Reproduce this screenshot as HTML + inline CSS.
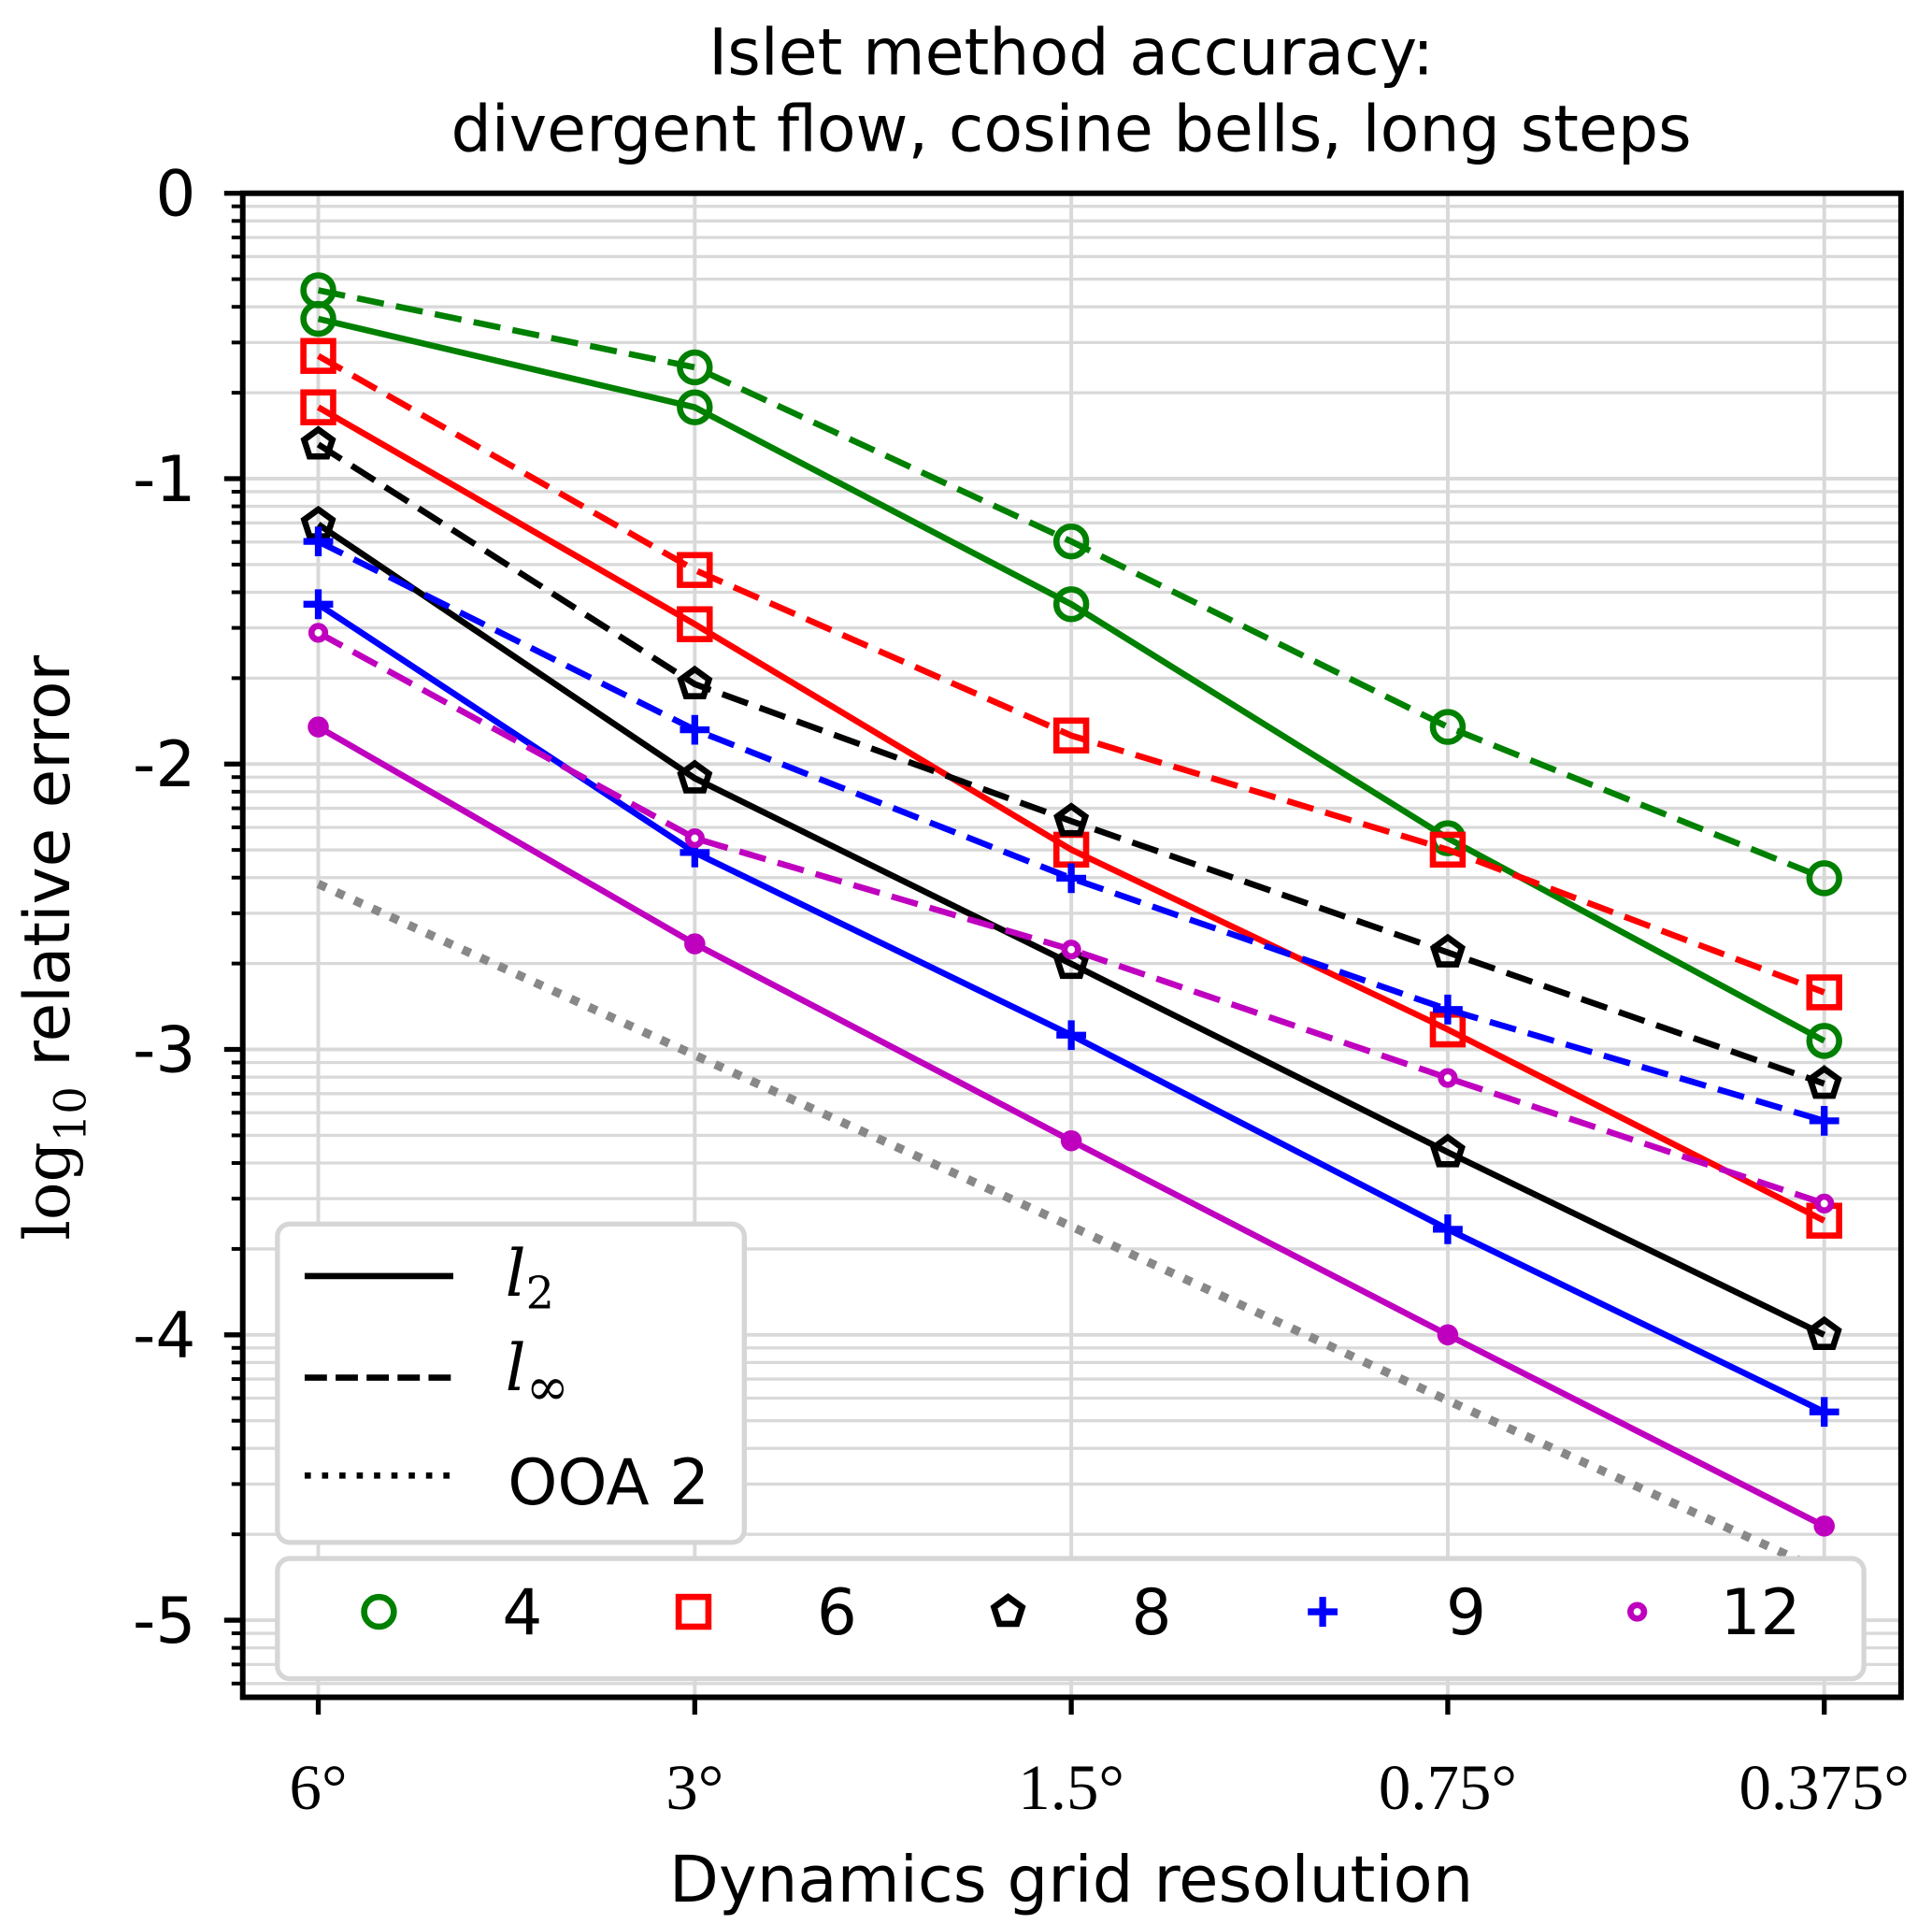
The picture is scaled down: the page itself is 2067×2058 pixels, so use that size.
<!DOCTYPE html>
<html><head><meta charset="utf-8"><style>
html,body{margin:0;padding:0;background:#fff;}
svg{display:block;}
text{font-family:"DejaVu Sans","Liberation Sans",sans-serif;fill:#000;}
.serif{font-family:"DejaVu Serif","Liberation Serif",serif;}
.lserif{font-family:"Liberation Serif","DejaVu Serif",serif;}
</style></head><body>
<svg id="chart" width="2067" height="2058" viewBox="0 0 1560 1553" preserveAspectRatio="none" xmlns="http://www.w3.org/2000/svg">
<g id="grid"></g>
<g id="ticks"></g>
<g id="series"></g>
<rect x="196" y="156" width="1339" height="1214" fill="none" stroke="#000" stroke-width="4.5"/>
<text x="865" y="60" font-size="51.5" text-anchor="middle">Islet method accuracy:</text>
<text x="865" y="122" font-size="51.5" text-anchor="middle">divergent flow, cosine bells, long steps</text>
<text transform="translate(56,765) rotate(-90)" font-size="51" text-anchor="middle"><tspan class="serif">log</tspan><tspan class="serif" font-size="35" dy="13">10</tspan><tspan dy="-13"> relative error</tspan></text>
<text x="865" y="1535" font-size="52" text-anchor="middle">Dynamics grid resolution</text>
<g id="legend">
<rect x="224" y="988" width="377" height="257" rx="10" fill="#fff" stroke="#d6d6d6" stroke-width="4"/>
<line x1="246" y1="1030" x2="366" y2="1030" stroke="#000" stroke-width="5"/>
<text class="serif" x="408" y="1046" font-size="52" font-style="italic">l<tspan font-size="36" dy="10" font-style="normal">2</tspan></text>
<line x1="246" y1="1112" x2="366" y2="1112" stroke="#000" stroke-width="5" stroke-dasharray="18,7"/>
<text class="serif" x="408" y="1122" font-size="52" font-style="italic">l<tspan font-size="42" dy="12" font-style="normal">∞</tspan></text>
<line x1="246" y1="1191" x2="366" y2="1191" stroke="#000" stroke-width="5" stroke-dasharray="5,9"/>
<text x="410" y="1214" font-size="51">OOA 2</text>
<rect x="224" y="1258" width="1281" height="97" rx="10" fill="#fff" stroke="#d6d6d6" stroke-width="4"/>
<g id="legend2"></g>
</g>
</svg>
<script>
const NS="http://www.w3.org/2000/svg";
const categories=["6°","3°","1.5°","0.75°","0.375°"];
const degrees=["4","6","8","9","12"];
const l2_4=[-0.44,-0.75,-1.44,-2.26,-2.97];
const linf_4=[-0.34,-0.61,-1.22,-1.87,-2.40];
const l2_6=[-0.75,-1.51,-2.30,-2.93,-3.60];
const linf_6=[-0.57,-1.32,-1.90,-2.30,-2.80];
const l2_8=[-1.16,-2.05,-2.70,-3.36,-4.00];
const linf_8=[-0.88,-1.72,-2.20,-2.66,-3.12];
const l2_9=[-1.44,-2.31,-2.95,-3.63,-4.27];
const linf_9=[-1.22,-1.88,-2.40,-2.86,-3.25];
const l2_12=[-1.87,-2.63,-3.32,-4.00,-4.67];
const linf_12=[-1.54,-2.26,-2.65,-3.10,-3.54];
const ooa2=[-2.42,-3.02,-3.62,-4.23,-4.83];
const yTicks=[0,-1,-2,-3,-4,-5];
const yTickLabels=["0","-1","-2","-3","-4","-5"];

const X0=196,X1=1535,Y0=156,Y1=1370,YMIN=-5.27;
function xs(i){return 257+i*304;}
function ys(v){return Y0+(0-v)/(0-YMIN)*(Y1-Y0);}
function mk(tag,attrs,parent){const e=document.createElementNS(NS,tag);for(const k in attrs)e.setAttribute(k,attrs[k]);parent.appendChild(e);return e;}
const grid=document.getElementById('grid'),ticks=document.getElementById('ticks'),series=document.getElementById('series');
for(let i=0;i<categories.length;i++){
  const l=mk('line',{x1:xs(i),x2:xs(i),y1:Y0,y2:Y1,stroke:'#d9d9d9','stroke-width':3},grid);
  
  
  const t=mk('line',{x1:xs(i),x2:xs(i),y1:Y1,y2:Y1+14,stroke:'#000','stroke-width':4},ticks);
  
  
  const tx=mk('text',{x:xs(i),y:1460,'font-size':52,'text-anchor':'middle','class':'lserif'},ticks);
  tx.textContent=categories[i];
  
  
}
for(let d=0;d>=-6;d--){
  for(let k=1;k<=9;k++){
    if(k===1&&d===-6)continue;
    const val=(k===1)?d:(d-1+Math.log10(k));
    if(val>0||val<YMIN)continue;
    const y=ys(val);
    const major=(k===1);
    const g=mk('line',{x1:X0,x2:X1,y1:y,y2:y,stroke:'#d9d9d9','stroke-width':major?3:2.5},grid);
    
    
    const t=mk('line',{x1:X0-(major?15:9),x2:X0,y1:y,y2:y,stroke:'#000','stroke-width':major?4:3},ticks);
    
    
  }
}
yTicks.forEach((v,i)=>{
  const tx=mk('text',{x:158,y:ys(v)+18,'font-size':51,'text-anchor':'end'},ticks);
  tx.textContent=yTickLabels[i];
  
  
});
const pts=ooa2.map((v,i)=>xs(i)+','+ys(v)).join(' ');
const ol=mk('polyline',{points:pts,fill:'none',stroke:'#888','stroke-width':7,'stroke-dasharray':'7,9'},series);



function marker(type,color,x,y,parent,small){
  let e;
  if(type==='circle') e=mk('circle',{cx:x,cy:y,r:12,fill:'none',stroke:color,'stroke-width':5},parent);
  else if(type==='square') e=mk('rect',{x:x-12,y:y-12,width:24,height:24,fill:'none',stroke:color,'stroke-width':5},parent);
  else if(type==='pent'){
    let p=[];for(let k=0;k<5;k++){const a=-Math.PI/2+k*2*Math.PI/5;p.push((x+12*Math.cos(a))+','+(y+12*Math.sin(a)));}
    e=mk('polygon',{points:p.join(' '),fill:'none',stroke:color,'stroke-width':5},parent);
  } else if(type==='plus') e=mk('path',{d:`M${x-12} ${y}H${x+12}M${x} ${y-12}V${y+12}`,stroke:color,'stroke-width':5.5,fill:'none'},parent);
  else if(type==='dot') e=small?mk('circle',{cx:x,cy:y,r:5.5,fill:'#fff',stroke:color,'stroke-width':5},parent):mk('circle',{cx:x,cy:y,r:8.5,fill:color},parent);
  
  
}
const defs=[
  {d:"4",c:'#008000',m:'circle',l2:l2_4,li:linf_4},
  {d:"6",c:'#ff0000',m:'square',l2:l2_6,li:linf_6},
  {d:"8",c:'#000000',m:'pent',l2:l2_8,li:linf_8},
  {d:"9",c:'#0000ff',m:'plus',l2:l2_9,li:linf_9},
  {d:"12",c:'#bf00bf',m:'dot',l2:l2_12,li:linf_12}
];
defs.forEach(s=>{
  [['l2',s.l2,null],['linf',s.li,'22,10']].forEach(([nm,arr,dash])=>{
    const g=mk('g',{},series);
    
    
    const a={points:arr.map((v,i)=>xs(i)+','+ys(v)).join(' '),fill:'none',stroke:s.c,'stroke-width':5};
    if(dash)a['stroke-dasharray']=dash;
    const pl=mk('polyline',a,g);
    
    
    arr.forEach((v,i)=>marker(s.m,s.c,xs(i),ys(v),g,nm==='linf'));
  });
});
const lg=document.getElementById('legend2');
defs.forEach((s,i)=>{
  const x=306+i*254;
  marker(s.m,s.c,x,1301,lg,true);
  const t=mk('text',{x:x+132,y:1319,'font-size':51,'text-anchor':'end'},lg);
  t.textContent=degrees[i];
  
  
});
</script>
</body></html>
